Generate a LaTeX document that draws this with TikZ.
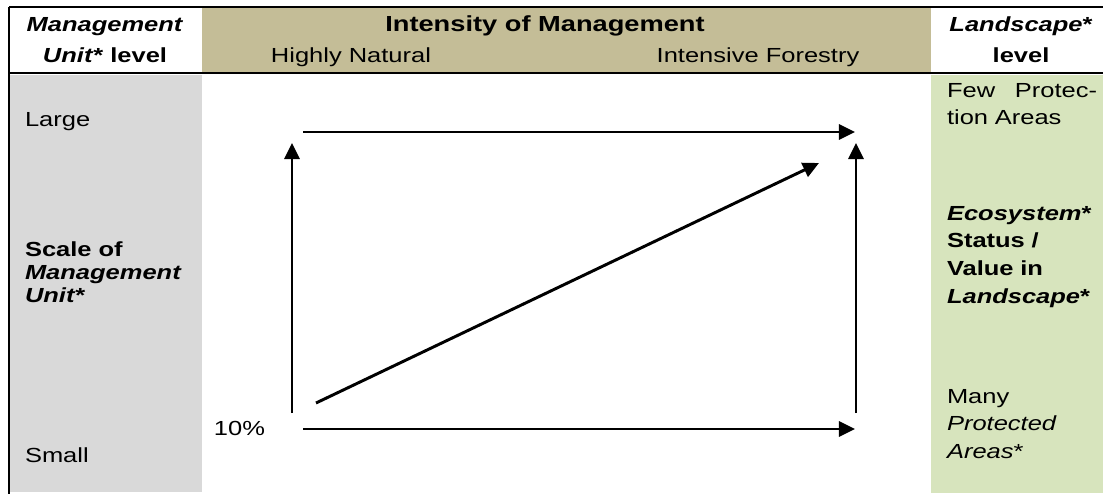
\documentclass[tikz,border=0pt]{standalone}
\usepackage{fontspec}
\setmainfont{Liberation Sans}[FakeStretch=1.25]
\usetikzlibrary{arrows.meta}

\definecolor{headtan}{HTML}{C4BD97}
\definecolor{unitgray}{HTML}{D9D9D9}
\definecolor{landgreen}{HTML}{D7E4BD}

\tikzset{
  celltext/.style={inner sep=0, outer sep=0, font=\fontsize{14.5}{16}\selectfont},
  headtext/.style={celltext, anchor=base, align=center,
    font=\fontsize{14.5}{22}\selectfont\bfseries},
  lefttext/.style={celltext, anchor=base west, align=left,
    font=\fontsize{14.5}{16.2}\selectfont},
  righttext/.style={celltext, anchor=base west, text width=106.7pt, align=left,
    font=\fontsize{14.5}{19.9}\selectfont},
  tablerule/.style={line width=1.4pt},
  trend/.style={line width=2.1pt, -{Triangle[length=11.4pt, width=10.7pt]}}
}

\begin{document}
\begin{tikzpicture}[x=0.025cm, y=-0.025cm]
  \useasboundingbox (0,0) rectangle (1103,494);

% CELLS
  \fill[headtan] (202,8) rectangle (931,72);
  \fill[unitgray] (10,75) rectangle (202,492);
  \fill[landgreen] (931,75) rectangle (1103,493);
  \draw[tablerule] (9,7) -- (1103,7);
  \draw[tablerule] (9,73) -- (1103,73);
  \draw[tablerule] (9,7) -- (9,494);

% HEADER
  \node[headtext] (unithead) at (105,62) {\textit{Management}\\\textit{Unit}* level};
  \node[headtext, font=\fontsize{15.5}{22}\selectfont\bfseries] (intensity) at (545,31) {Intensity of Management};
  \node[celltext, anchor=base] (natural) at (351,62) {Highly Natural};
  \node[celltext, anchor=base] (forestry) at (758,62) {Intensive Forestry};
  \node[headtext] (landhead) at (1021,62) {\textit{Landscape}*\\level};

% LEFT COLUMN
  \node[lefttext] (large) at (25,126) {Large};
  \node[lefttext, font=\fontsize{14.5}{16.2}\selectfont\bfseries] (scale) at (25,302) {Scale of\\\textit{Management}\\\textit{Unit}*};
  \node[lefttext] (small) at (25,462) {Small};

% RIGHT COLUMN
  \node[righttext] (few) at (947,97) {Few\hfill Protec-\\tion Areas};
  \node[righttext, font=\fontsize{14.5}{19.9}\selectfont\bfseries] (status) at (947,220) {\textit{Ecosystem}*\\Status /\\Value in\\\textit{Landscape}*};
  \node[righttext] (many) at (947,403) {Many\\\textit{Protected}\\\textit{Areas}*};

% ARROWS
  \node[celltext, anchor=base east] (tenpct) at (265,435) {10\%};
  \coordinate (upleft) at (303,132);
  \coordinate (upright) at (855,132);
  \coordinate (lowleft) at (303,429);
  \coordinate (lowright) at (855,429);
  \coordinate (leftfoot) at (292,413);
  \coordinate (lefthead) at (292,143);
  \coordinate (rightfoot) at (856,413);
  \coordinate (righthead) at (856,143);
  \coordinate (diagfoot) at (316,403);
  \coordinate (diaghead) at (819,163);

  \draw[trend] (upleft) -- (upright);
  \draw[trend] (lowleft) -- (lowright);
  \draw[trend] (leftfoot) -- (lefthead);
  \draw[trend] (rightfoot) -- (righthead);
  \draw[trend] (diagfoot) -- (diaghead);
\end{tikzpicture}
\end{document}
